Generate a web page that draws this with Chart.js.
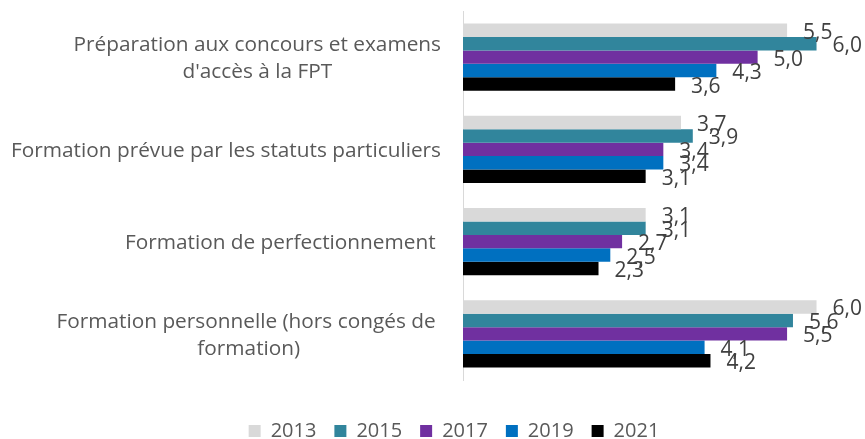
<!DOCTYPE html>
<html lang="fr">
<head>
<meta charset="utf-8">
<title>Formations suivies</title>
<script src="https://cdn.jsdelivr.net/npm/chart.js@4.4.1/dist/chart.umd.min.js"></script>
<style>
  html, body { margin: 0; padding: 0; background: #fff; }
  #wrap { width: 865px; height: 439px; }
</style>
</head>
<body>
<div id="wrap"><canvas id="formationChart"></canvas></div>
<script>
// Category labels, one entry per line
const categories = [
  ['Préparation aux concours et examens', "d'accès à la FPT"],
  ['Formation prévue par les statuts particuliers'],
  ['Formation de perfectionnement '],
  ['Formation personnelle (hors congés de ', 'formation)']
];
const years = ['2013', '2015', '2017', '2019', '2021'];

// Values per year, same order as categories
const values2013 = [5.5, 3.7, 3.1, 6.0];
const values2015 = [6.0, 3.9, 3.1, 5.6];
const values2017 = [5.0, 3.4, 2.7, 5.5];
const values2019 = [4.3, 3.4, 2.5, 4.1];
const values2021 = [3.6, 3.1, 2.3, 4.2];

const series = [values2013, values2015, values2017, values2019, values2021];
const colors = ['#D9D9D9', '#31859C', '#7030A0', '#0070C0', '#000000'];

Chart.defaults.font.family = '"Open Sans", sans-serif';

// Category names drawn by hand so that wrapped lines stay centred on each other
const categoryLabels = {
  id: 'categoryLabels',
  afterDraw(chart) {
    const scale = chart.scales.y;
    const ctx = chart.ctx;
    const size = 20.8;
    ctx.save();
    ctx.font = size + 'px "Open Sans"';
    ctx.fillStyle = '#595959';
    ctx.textAlign = 'center';
    ctx.textBaseline = 'alphabetic';
    const right = scale.right - 22;
    categories.forEach((lines, i) => {
      const y = scale.getPixelForTick(i);
      const widest = Math.max(...lines.map(l => ctx.measureText(l).width));
      const cx = right - widest / 2;
      lines.forEach((line, j) => {
        const mid = y + (j - (lines.length - 1) / 2) * 27;
        ctx.fillText(line, cx, mid + size * 0.36);
      });
    });
    ctx.restore();
  }
};

// Value at the end of each bar, French decimal comma
const valueLabels = {
  id: 'valueLabels',
  afterDatasetsDraw(chart) {
    const ctx = chart.ctx;
    const size = 21;
    ctx.save();
    ctx.font = size + 'px "Open Sans"';
    ctx.fillStyle = '#404040';
    ctx.textAlign = 'left';
    ctx.textBaseline = 'alphabetic';
    chart.data.datasets.forEach((ds, d) => {
      chart.getDatasetMeta(d).data.forEach((bar, i) => {
        const text = ds.data[i].toFixed(1).replace('.', ',');
        ctx.fillText(text, bar.x + 16, bar.y + 1 + size * 0.36);
      });
    });
    ctx.restore();
  }
};

const ctx = document.getElementById('formationChart').getContext('2d');
new Chart(ctx, {
  type: 'bar',
  data: {
    labels: categories,
    datasets: years.map((year, k) => ({
      label: year,
      data: series[k],
      backgroundColor: colors[k],
      borderWidth: 0,
      categoryPercentage: 0.73,
      barPercentage: 1
    }))
  },
  options: {
    indexAxis: 'y',
    responsive: true,
    maintainAspectRatio: false,
    animation: false,
    layout: {
      padding: { top: 11, left: 62, right: 19, bottom: 0 }
    },
    plugins: {
      tooltip: { enabled: false },
      legend: {
        position: 'bottom',
        maxHeight: 36,
        labels: {
          boxWidth: 12,
          boxHeight: 12,
          padding: 18,
          color: '#595959',
          font: { size: 20 }
        }
      }
    },
    scales: {
      x: {
        min: 0,
        max: 6.5,
        grid: { display: false },
        border: { display: false },
        ticks: { display: false },
        afterFit(scale) { scale.height = 23; }
      },
      y: {
        grid: { display: false },
        border: { display: true, color: '#D9D9D9', width: 1 },
        ticks: { display: false },
        afterFit(scale) { scale.width = 401; }
      }
    }
  },
  plugins: [categoryLabels, valueLabels]
});
</script>
</body>
</html>
